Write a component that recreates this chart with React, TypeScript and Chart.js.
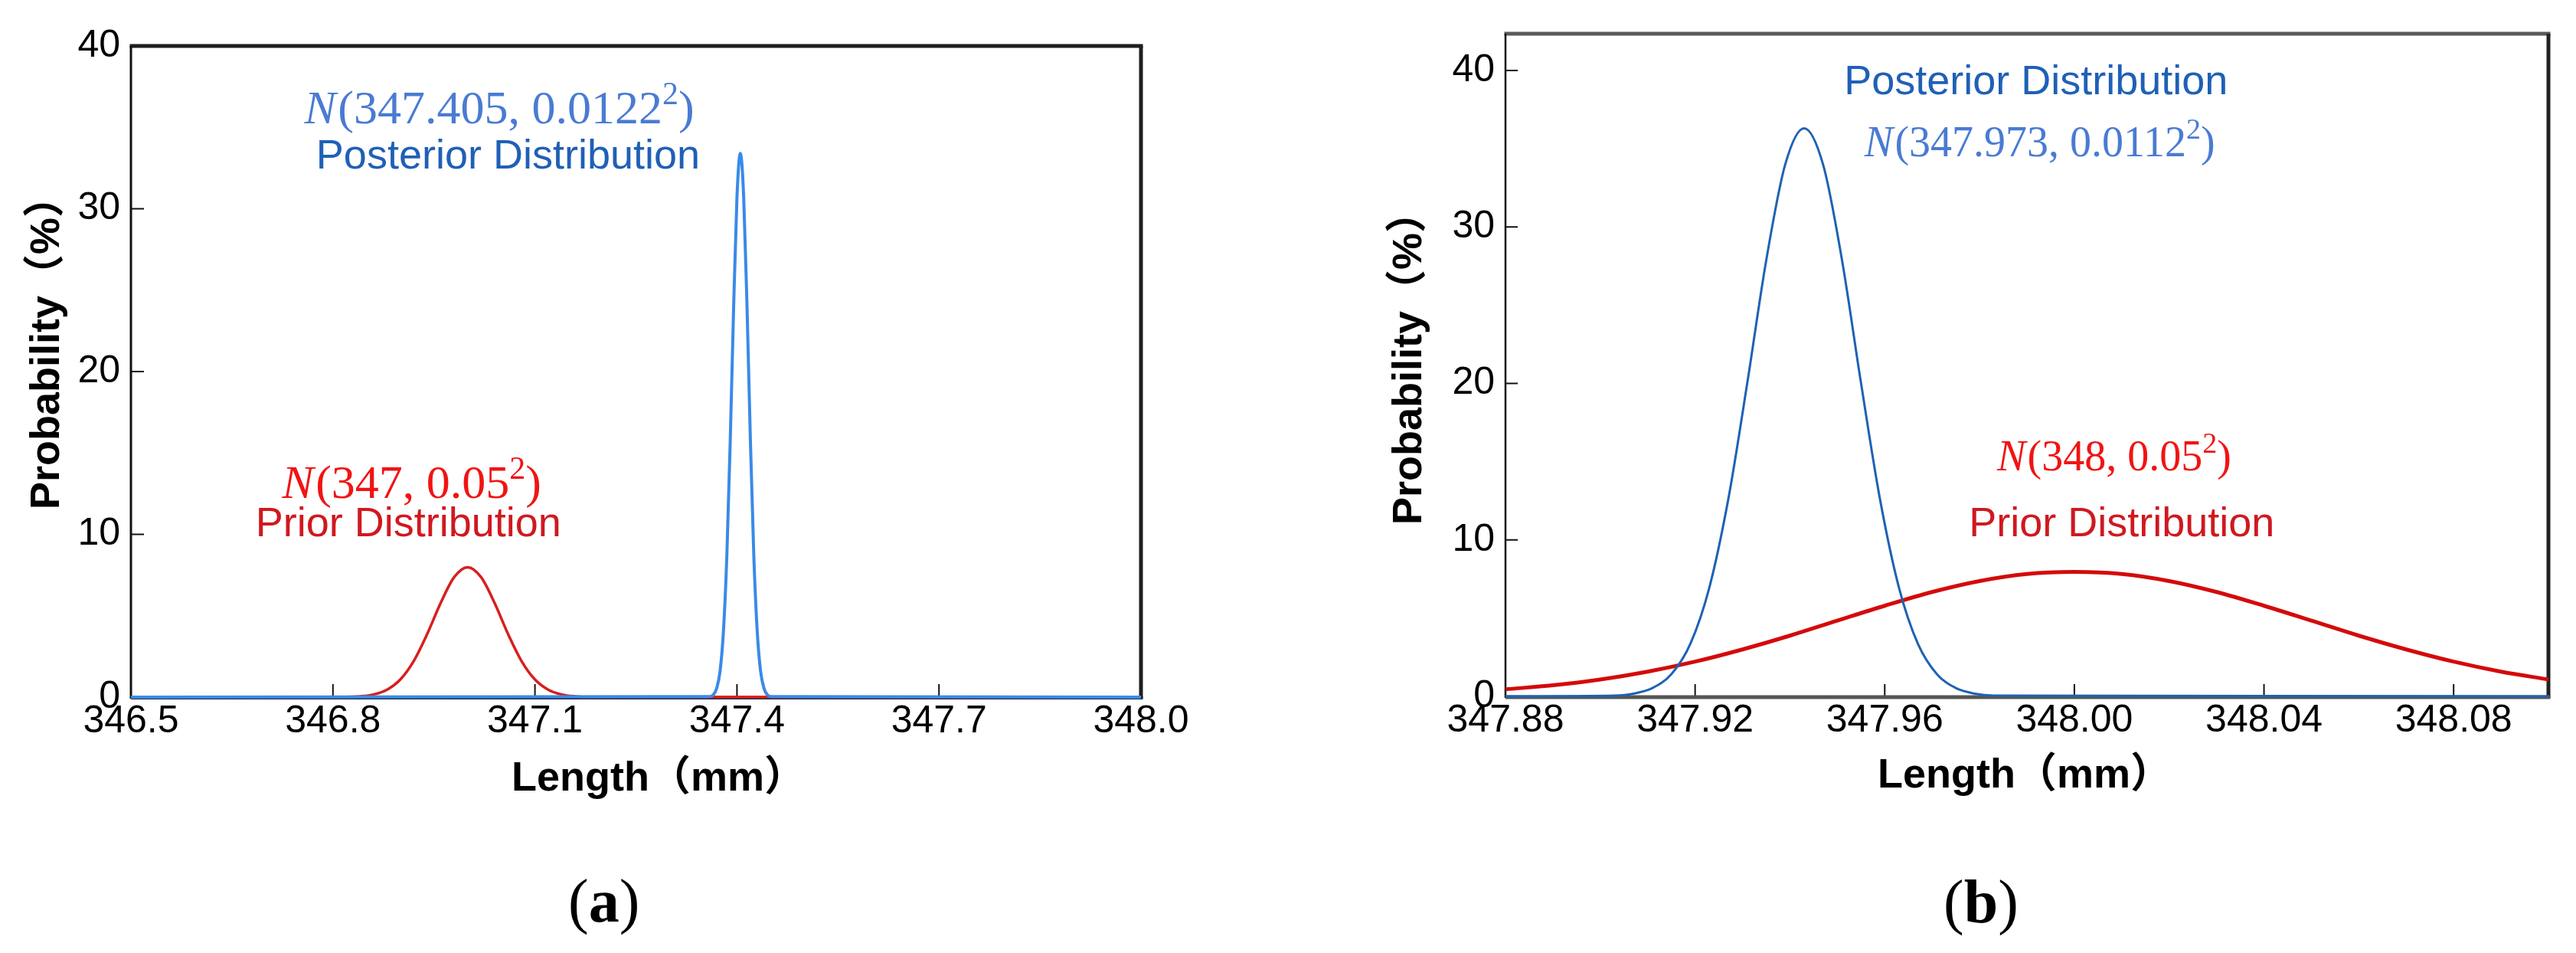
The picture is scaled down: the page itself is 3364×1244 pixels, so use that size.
import React, { useEffect, useRef } from "react";
import { Chart, registerables } from "chart.js";

Chart.register(...registerables);

const SANS = '"Liberation Sans", Arial, "Noto Sans CJK SC", sans-serif';
const SERIF = '"Liberation Serif", "Times New Roman", serif';

// ---------------- Panel (a) ----------------
const A_X_TICKS = [346.5, 346.8, 347.1, 347.4, 347.7, 348.0];
const A_Y_TICKS = [0, 10, 20, 30, 40];
const A_PRIOR_X = [346.5, 346.82, 346.84, 346.86, 346.88, 346.9, 346.92, 346.94, 346.96, 346.98, 347.0, 347.02, 347.04, 347.06, 347.08, 347.1, 347.12, 347.14, 347.16, 347.18, 348.0];
const A_PRIOR_Y = [0, 0.01, 0.05, 0.16, 0.45, 1.08, 2.22, 3.88, 5.79, 7.37, 7.98, 7.37, 5.79, 3.88, 2.22, 1.08, 0.45, 0.16, 0.05, 0.01, 0];
const A_POST_X = [346.5, 347.36, 347.365, 347.37, 347.375, 347.38, 347.385, 347.39, 347.395, 347.4, 347.405, 347.41, 347.415, 347.42, 347.425, 347.43, 347.435, 347.44, 347.445, 347.45, 348.0];
const A_POST_Y = [0, 0.04, 0.15, 0.55, 1.62, 4.1, 8.72, 15.69, 23.87, 30.71, 33.4, 30.71, 23.87, 15.69, 8.72, 4.1, 1.62, 0.55, 0.15, 0.04, 0];

// ---------------- Panel (b) ----------------
const B_X_TICKS = [347.88, 347.92, 347.96, 348.0, 348.04, 348.08];
const B_Y_TICKS = [0, 10, 20, 30, 40];
const B_PRIOR_X = [347.88, 347.89, 347.9, 347.91, 347.92, 347.93, 347.94, 347.95, 347.96, 347.97, 347.98, 347.99, 348.0, 348.01, 348.02, 348.03, 348.04, 348.05, 348.06, 348.07, 348.08, 348.09, 348.1];
const B_PRIOR_Y = [0.45, 0.71, 1.08, 1.58, 2.22, 3.0, 3.88, 4.84, 5.79, 6.67, 7.37, 7.82, 7.95, 7.82, 7.37, 6.67, 5.79, 4.84, 3.88, 3.0, 2.22, 1.58, 1.08];
const B_POST_X = [347.88, 347.903, 347.907, 347.911, 347.915, 347.919, 347.923, 347.927, 347.931, 347.935, 347.939, 347.943, 347.947, 347.951, 347.955, 347.959, 347.963, 347.967, 347.971, 347.975, 347.979, 347.983, 348.1];
const B_POST_Y = [0, 0.05, 0.17, 0.53, 1.42, 3.36, 6.95, 12.6, 20.02, 27.86, 33.98, 36.3, 33.98, 27.86, 20.02, 12.6, 6.95, 3.36, 1.42, 0.53, 0.17, 0.05, 0];

// annotation texts (anchored in data coordinates)
const A_NOTES = [
  { kind: "math", mean: "347.405", sd: "0.0122", x: 347.047, y: 35.25, size: 62, color: "#4a7bd3" },
  { kind: "text", text: "Posterior Distribution", x: 347.06, y: 32.47, size: 54, color: "#1f60b6" },
  { kind: "math", mean: "347", sd: "0.05", x: 346.917, y: 12.24, size: 62, color: "#f01414" },
  { kind: "text", text: "Prior Distribution", x: 346.912, y: 9.88, size: 54, color: "#d01820" },
];
const B_NOTES = [
  { kind: "text", text: "Posterior Distribution", x: 347.9919, y: 38.49, size: 54, color: "#1f60b6" },
  { kind: "math", mean: "347.973", sd: "0.0112", x: 347.9927, y: 34.53, size: 56, color: "#4a7bd3" },
  { kind: "math", mean: "348", sd: "0.05", x: 348.0084, y: 14.46, size: 56, color: "#f01414" },
  { kind: "text", text: "Prior Distribution", x: 348.01, y: 10.25, size: 54, color: "#d01820" },
];

const H = 1244;

const PANELS = [
  {
    key: "a",
    left: 0,
    width: 1700,
    area: { left: 171, right: 1490, top: 60, bottom: 910 },
    xMin: 346.5, xMax: 348.0, yMin: 0, yMax: 40,
    xTicks: A_X_TICKS, xDec: 1, yTicks: A_Y_TICKS,
    series: [
      { xs: A_POST_X, ys: A_POST_Y, color: "#3a8ae8", width: 4 },
      { xs: A_PRIOR_X, ys: A_PRIOR_Y, color: "#d81e1e", width: 3.5 },
    ],
    notes: A_NOTES,
    border: { top: ["#1e1e1e", 5], left: ["#111111", 3], right: ["#1e1e1e", 5], bottom: ["#1d2b4a", 4] },
    tickLen: 17,
    yTitle: { x: 77, y: 665 },
    xTitle: { x: 668, y: 1032 },
    caption: { x: 742, y: 1203, letter: "a" },
  },
  {
    key: "b",
    left: 1700,
    width: 1664,
    area: { left: 266, right: 1628, top: 33, bottom: 909 },
    xMin: 347.88, xMax: 348.1, yMin: 0, yMax: 42.35,
    xTicks: B_X_TICKS, xDec: 2, yTicks: B_Y_TICKS,
    series: [
      { xs: B_POST_X, ys: B_POST_Y, color: "#1e62b4", width: 3 },
      { xs: B_PRIOR_X, ys: B_PRIOR_Y, color: "#d40a0a", width: 5 },
    ],
    notes: B_NOTES,
    border: { top: ["#5a5a5a", 5], left: ["#111111", 2.5], right: ["#222222", 5], bottom: ["#555555", 5] },
    tickLen: 16,
    yTitle: { x: 1856, y: 685 },
    xTitle: { x: 2452, y: 1028 },
    caption: { x: 2538, y: 1204, letter: "b" },
  },
];

function drawMath(ctx: CanvasRenderingContext2D, mean: string, sd: string, cx: number, by: number, size: number, color: string) {
  const parts = [
    { t: "N", f: `italic ${size}px ${SERIF}`, dy: 0 },
    { t: `(${mean}, ${sd}`, f: `${size}px ${SERIF}`, dy: 0 },
    { t: "2", f: `${Math.round(size * 0.68)}px ${SERIF}`, dy: -size * 0.4 },
    { t: ")", f: `${size}px ${SERIF}`, dy: 0 },
  ];
  let total = 0;
  const ws: number[] = [];
  for (const p of parts) {
    ctx.font = p.f;
    const w = ctx.measureText(p.t).width + (p.t === "N" ? size * 0.04 : 0);
    ws.push(w);
    total += w;
  }
  let x = cx - total / 2;
  ctx.fillStyle = color;
  ctx.textAlign = "left";
  ctx.textBaseline = "alphabetic";
  parts.forEach((p, i) => {
    ctx.font = p.f;
    ctx.fillText(p.t, x, by + p.dy);
    x += ws[i];
  });
}

function makeDecor(p: any) {
  return {
    id: "decor_" + p.key,
    beforeDatasetsDraw(chart: any) {
      const ctx = chart.ctx as CanvasRenderingContext2D;
      const ca = chart.chartArea;
      const xs = chart.scales.x;
      const ys = chart.scales.y;
      ctx.save();
      ctx.lineCap = "butt";
      // inward tick marks
      ctx.strokeStyle = "#111";
      ctx.lineWidth = 2;
      for (const v of p.xTicks) {
        const px = xs.getPixelForValue(v);
        if (px <= ca.left + 2 || px >= ca.right - 2) continue;
        ctx.beginPath();
        ctx.moveTo(px, ca.bottom);
        ctx.lineTo(px, ca.bottom - p.tickLen);
        ctx.stroke();
      }
      for (const v of p.yTicks) {
        const py = ys.getPixelForValue(v);
        if (py >= ca.bottom - 2 || py <= ca.top + 2) continue;
        ctx.beginPath();
        ctx.moveTo(ca.left, py);
        ctx.lineTo(ca.left + p.tickLen, py);
        ctx.stroke();
      }
      // frame
      const b = p.border;
      const line = (c: string, w: number, x1: number, y1: number, x2: number, y2: number) => {
        ctx.strokeStyle = c;
        ctx.lineWidth = w;
        ctx.beginPath();
        ctx.moveTo(x1, y1);
        ctx.lineTo(x2, y2);
        ctx.stroke();
      };
      line(b.top[0], b.top[1], ca.left - 1.5, ca.top, ca.right + 2.5, ca.top);
      line(b.left[0], b.left[1], ca.left, ca.top, ca.left, ca.bottom + 2);
      line(b.right[0], b.right[1], ca.right, ca.top, ca.right, ca.bottom + 2);
      line(b.bottom[0], b.bottom[1], ca.left, ca.bottom + 1, ca.right + 2.5, ca.bottom + 1);
      ctx.restore();
    },
    afterDraw(chart: any) {
      const ctx = chart.ctx as CanvasRenderingContext2D;
      const xs = chart.scales.x;
      const ys = chart.scales.y;
      const off = p.left;
      ctx.save();
      // annotations
      for (const n of p.notes) {
        const cx = xs.getPixelForValue(n.x);
        const by = ys.getPixelForValue(n.y);
        if (n.kind === "math") {
          drawMath(ctx, n.mean, n.sd, cx, by, n.size, n.color);
        } else {
          ctx.font = `${n.size}px ${SANS}`;
          ctx.fillStyle = n.color;
          ctx.textAlign = "center";
          ctx.textBaseline = "alphabetic";
          ctx.fillText(n.text, cx, by);
        }
      }
      // axis titles
      ctx.fillStyle = "#000";
      ctx.font = `bold 54px ${SANS}`;
      ctx.textAlign = "left";
      ctx.textBaseline = "alphabetic";
      ctx.save();
      ctx.translate(p.yTitle.x - off, p.yTitle.y);
      ctx.rotate(-Math.PI / 2);
      ctx.fillText("Probability（%）", 0, 0);
      ctx.restore();
      ctx.fillText("Length（mm）", p.xTitle.x - off, p.xTitle.y);
      // caption
      let cx = p.caption.x - off;
      ctx.font = `80px ${SERIF}`;
      ctx.fillText("(", cx, p.caption.y);
      cx += ctx.measureText("(").width;
      ctx.font = `bold 80px ${SERIF}`;
      ctx.fillText(p.caption.letter, cx, p.caption.y);
      cx += ctx.measureText(p.caption.letter).width;
      ctx.font = `80px ${SERIF}`;
      ctx.fillText(")", cx, p.caption.y);
      ctx.restore();
    },
  };
}

function Panel({ p }: { p: any }) {
  const ref = useRef<HTMLCanvasElement | null>(null);
  useEffect(() => {
    const canvas = ref.current;
    if (!canvas) return;
    const datasets = p.series.map((s: any) => ({
      data: s.xs.map((x: number, i: number) => ({ x, y: s.ys[i] })),
      borderColor: s.color,
      backgroundColor: s.color,
      borderWidth: s.width,
      showLine: true,
      pointRadius: 0,
      cubicInterpolationMode: "monotone",
      fill: false,
      clip: 10,
    }));
    const chart = new Chart(canvas, {
      type: "scatter",
      data: { datasets },
      options: {
        animation: false,
        responsive: false,
        devicePixelRatio: 1,
        layout: {
          padding: {
            left: 0,
            top: p.area.top,
            right: p.width - p.area.right,
            bottom: H - p.area.bottom - 100,
          },
        },
        plugins: { legend: { display: false }, tooltip: { enabled: false }, title: { display: false } },
        scales: {
          x: {
            type: "linear",
            min: p.xMin,
            max: p.xMax,
            grid: { display: false, drawTicks: false },
            border: { display: false },
            afterBuildTicks: (s: any) => {
              s.ticks = p.xTicks.map((v: number) => ({ value: v }));
            },
            afterFit: (s: any) => {
              s.height = 100;
            },
            ticks: {
              autoSkip: false,
              maxRotation: 0,
              padding: 2,
              color: "#000",
              font: { family: SANS, size: 50 },
              callback: (v: any) => Number(v).toFixed(p.xDec),
            },
          },
          y: {
            type: "linear",
            min: p.yMin,
            max: p.yMax,
            grid: { display: false, drawTicks: false },
            border: { display: false },
            afterBuildTicks: (s: any) => {
              s.ticks = p.yTicks.map((v: number) => ({ value: v }));
            },
            afterFit: (s: any) => {
              s.width = p.area.left;
            },
            ticks: {
              autoSkip: false,
              padding: 14,
              color: "#000",
              font: { family: SANS, size: 50 },
              callback: (v: any) => String(v),
            },
          },
        },
      },
      plugins: [makeDecor(p)],
    } as any);
    return () => chart.destroy();
  }, [p]);
  return (
    <canvas
      ref={ref}
      width={p.width}
      height={H}
      style={{ position: "absolute", left: p.left, top: 0, width: p.width, height: H, display: "block" }}
    />
  );
}

export default function App() {
  useEffect(() => {
    document.body.style.margin = "0";
    document.body.style.background = "#fff";
  }, []);
  return (
    <div style={{ position: "relative", width: 3364, height: H, background: "#fff", overflow: "hidden" }}>
      {PANELS.map((p) => (
        <Panel key={p.key} p={p} />
      ))}
    </div>
  );
}
